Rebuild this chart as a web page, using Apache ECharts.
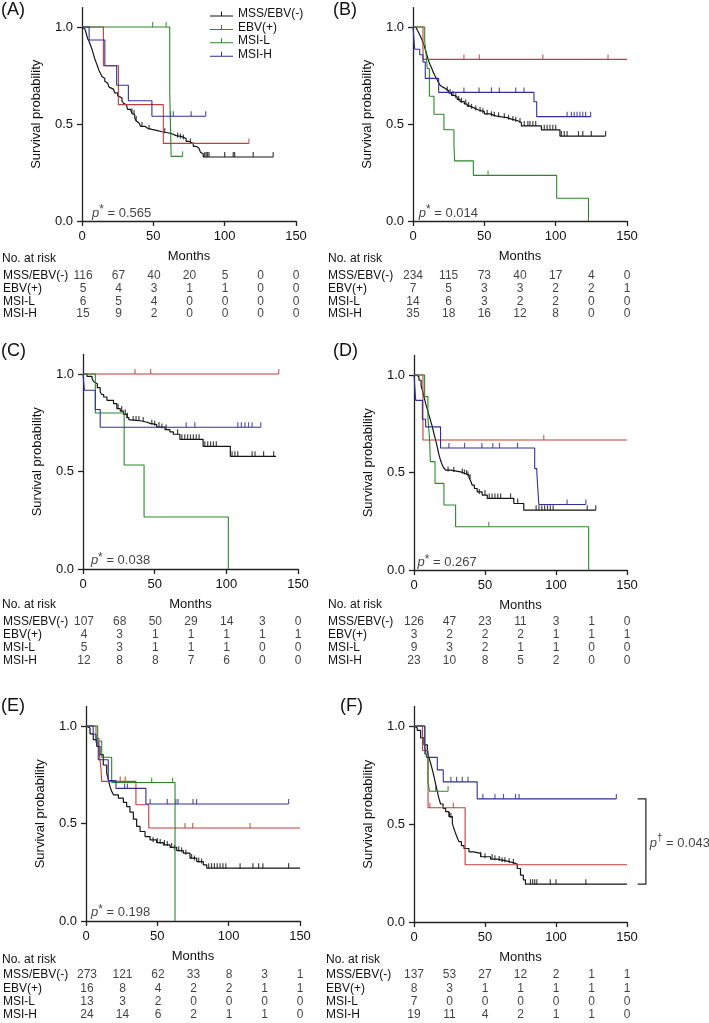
<!DOCTYPE html>
<html>
<head>
  <title>Survival by molecular subtype</title>
  <meta http-equiv="Content-Type" content="text/html; charset=utf-8">
  <script src="https://cdn.jsdelivr.net/npm/echarts@6/dist/echarts.min.js"></script>
  <style>
    html, body { margin: 0; padding: 0; background: #fff; }
    #chart { width: 709px; height: 1023px; }
  </style>
</head>
<body>
<div id="chart"></div>
<script type="application/javascript">
var groups = ['MSS/EBV(-)', 'EBV(+)', 'MSI-L', 'MSI-H'];
var riskMonths = [0, 25, 50, 75, 100, 125, 150];
var yTicks = [0, 0.5, 1];

// survival steps [month, survival] per group: MSS/EBV(-), EBV(+), MSI-L, MSI-H
var kmA = [
  [[0,1],[1,0.99],[2,0.98],[3,0.965],[4,0.94],[5,0.925],[6,0.905],[7,0.885],[8,0.86],[9,0.835],[10,0.815],[11,0.795],[12,0.775],[13,0.76],[14,0.745],[15,0.735],[16,0.72],[17,0.71],[18,0.7],[19,0.69],[20,0.68],[22,0.67],[23,0.66],[25,0.645],[26,0.635],[28,0.62],[29,0.607],[30,0.6],[31,0.59],[32,0.575],[34,0.565],[35,0.555],[36,0.546],[37,0.53],[38,0.515],[39,0.505],[40,0.495],[41,0.488],[44,0.478],[46,0.472],[49,0.466],[53,0.46],[56,0.455],[60,0.45],[63,0.44],[66,0.435],[70,0.425],[73,0.41],[75,0.4],[78,0.385],[80,0.375],[82,0.366],[83,0.355],[84,0.345],[85,0.33],[134,0.33]],
  [[0,1],[15,0.8],[25.5,0.6],[57,0.4],[117,0.4]],
  [[0,1],[61.5,0.667],[62.5,0.333],[70.5,0.333]],
  [[0,1],[5,0.933],[16,0.8],[24.3,0.7],[32.5,0.62],[49,0.54],[86.7,0.54]]
];
var censA = [
  [[35,0.555],[36.5,0.546],[38,0.515],[42,0.485],[47,0.47],[58,0.452],[67,0.43],[69,0.425],[71,0.42],[76,0.4],[86,0.33],[87,0.33],[88,0.33],[89,0.33],[100,0.33],[106,0.33],[107,0.33],[120,0.33],[134,0.33]],
  [[117,0.4]],
  [[49.5,1],[59,1],[70.5,0.333]],
  [[62,0.54],[64,0.54],[76.5,0.54],[86.7,0.54]]
];
var kmB = [
  [[0,1],[2,0.99],[3,0.985],[4,0.97],[5,0.955],[6,0.94],[7,0.92],[8,0.9],[9,0.875],[10,0.85],[11,0.825],[12,0.805],[13,0.79],[14,0.77],[15,0.755],[16,0.74],[17,0.727],[18,0.712],[19,0.7],[20,0.69],[21,0.682],[23,0.672],[25,0.66],[27,0.648],[29,0.638],[31,0.627],[33,0.615],[36,0.603],[38,0.592],[40,0.582],[43,0.572],[46,0.564],[50,0.552],[54,0.542],[58,0.537],[62,0.533],[66,0.525],[69,0.518],[73,0.508],[76,0.49],[90,0.47],[103,0.438],[135,0.438]],
  [[0,1],[7,0.833],[150,0.833]],
  [[0,1],[8.2,0.929],[9.2,0.857],[10,0.786],[11.5,0.643],[14.7,0.55],[21.7,0.47],[28.7,0.39],[29.2,0.31],[42.3,0.235],[100.7,0.117],[123,0]],
  [[0,1],[1.2,0.885],[4.7,0.857],[7,0.82],[8.6,0.735],[18,0.663],[84.8,0.615],[86.7,0.538],[124.5,0.538]]
];
var censB = [
  [[24,0.668],[26,0.655],[28,0.645],[30,0.633],[32,0.62],[34,0.61],[37,0.6],[39,0.588],[41,0.578],[44,0.57],[47,0.562],[49,0.556],[52,0.548],[55,0.54],[57,0.538],[60,0.535],[64,0.53],[67,0.522],[70,0.515],[72,0.51],[75,0.505],[78,0.49],[80.5,0.49],[82,0.49],[84,0.49],[86,0.49],[92,0.47],[94,0.47],[96,0.47],[98,0.47],[100,0.47],[104,0.438],[106,0.438],[108,0.438],[116,0.438],[119,0.438],[125,0.438],[135,0.438]],
  [[35.7,0.833],[46.5,0.833],[91,0.833],[136.7,0.833]],
  [[52.6,0.235]],
  [[35.7,0.663],[46.3,0.663],[55,0.663],[60.5,0.663],[72,0.663],[77.8,0.663],[108,0.538],[111,0.538],[113,0.538],[115,0.538],[117,0.538],[119,0.538],[121,0.538],[124.5,0.538]]
];
var kmC = [
  [[0,1],[2.8,0.988],[6.3,0.976],[7.5,0.96],[8.6,0.95],[10,0.93],[12,0.908],[13,0.895],[14.4,0.882],[16.7,0.865],[21.3,0.848],[23.6,0.822],[26,0.81],[28.2,0.793],[30.6,0.776],[32,0.765],[34,0.759],[41,0.754],[44,0.747],[47,0.74],[51.4,0.728],[57.2,0.715],[60.6,0.703],[63,0.691],[67.6,0.665],[83.8,0.629],[102.8,0.578],[134.7,0.578]],
  [[0,1],[136.6,1]],
  [[0,1],[8.6,0.8],[28.7,0.533],[42.6,0.267],[101.4,0]],
  [[0,1],[1,0.917],[8.6,0.818],[12,0.727],[124,0.727]]
];
var censC = [
  [[24.5,0.822],[27,0.81],[29.5,0.793],[31,0.776],[35,0.759],[37,0.759],[39,0.759],[42,0.754],[48,0.74],[50,0.735],[53,0.728],[55,0.72],[58,0.715],[66,0.691],[69,0.665],[71,0.665],[73,0.665],[75,0.665],[77,0.665],[79,0.665],[81,0.665],[85,0.629],[87,0.629],[89,0.629],[91,0.629],[93,0.629],[104,0.578],[106,0.578],[108,0.578],[118,0.578],[120,0.578],[126,0.578],[133,0.578]],
  [[36.3,1],[47.2,1],[136.6,1]],
  [],
  [[72,0.727],[78,0.727],[108,0.727],[110.5,0.727],[113,0.727],[115.5,0.727],[118,0.727],[124,0.727]]
];
var kmD = [
  [[0,1],[2,0.99],[3.5,0.973],[5,0.945],[5.9,0.922],[7,0.89],[8.2,0.853],[9.4,0.825],[10.5,0.795],[11.7,0.765],[12.9,0.735],[14,0.7],[15.2,0.667],[16.4,0.63],[17.6,0.59],[18.8,0.56],[19.9,0.538],[21,0.523],[22.3,0.512],[25.8,0.503],[32.8,0.495],[36,0.487],[38.7,0.474],[40,0.455],[41,0.435],[42.5,0.418],[44.5,0.401],[48,0.384],[51.6,0.367],[70.3,0.341],[77.3,0.307],[128,0.307]],
  [[0,1],[6.3,0.667],[150,0.667]],
  [[0,1],[7.5,0.889],[9.8,0.778],[11,0.667],[11.5,0.556],[14.8,0.444],[21.1,0.333],[29.3,0.222],[123,0]],
  [[0,1],[1.2,0.87],[5.9,0.773],[8.2,0.734],[18.7,0.626],[85,0.52],[86.5,0.5],[87.9,0.336],[121,0.336]]
];
var censD = [
  [[24,0.505],[28,0.503],[34,0.495],[35.5,0.49],[37,0.487],[38,0.48],[39.5,0.465],[46,0.39],[50,0.384],[53,0.367],[55,0.367],[57,0.367],[59,0.367],[61,0.367],[68,0.367],[73,0.341],[86,0.307],[88,0.307],[90,0.307],[92,0.307],[94,0.307],[96,0.307],[98,0.307],[122,0.307],[128,0.307]],
  [[91.4,0.667]],
  [[52.7,0.222]],
  [[24.6,0.626],[35.6,0.626],[47.8,0.626],[55.5,0.626],[60.2,0.626],[72.9,0.626],[107.8,0.336],[121,0.336]]
];
var kmE = [
  [[0,1],[1,0.99],[2.8,0.96],[5.1,0.93],[7.5,0.896],[9.8,0.853],[12.1,0.8],[14.5,0.759],[15.5,0.73],[16.8,0.69],[18,0.665],[19.2,0.647],[22.7,0.63],[26.2,0.608],[28.5,0.587],[30.8,0.558],[33.2,0.522],[35.5,0.485],[37.9,0.459],[41.4,0.433],[44.9,0.416],[49.5,0.402],[54.2,0.39],[58.9,0.378],[63.6,0.361],[68.2,0.348],[72.9,0.322],[77.6,0.305],[82.2,0.288],[84.6,0.271],[150,0.271]],
  [[0,1],[7,0.9375],[9.1,0.875],[10.5,0.78],[11,0.716],[35,0.596],[44,0.477],[150,0.477]],
  [[0,1],[8.2,0.923],[11,0.84],[18,0.71],[62.4,0]],
  [[0,1],[5,0.958],[7,0.917],[8.6,0.827],[15.6,0.72],[21,0.68],[42,0.6],[142,0.6]]
];
var censE = [
  [[47,0.405],[50,0.4],[52,0.395],[55,0.39],[57,0.385],[60,0.375],[62,0.365],[65,0.358],[67,0.352],[70,0.34],[74,0.318],[76,0.31],[79,0.3],[81,0.295],[86,0.271],[88,0.271],[90,0.271],[92,0.271],[94,0.271],[96,0.271],[98,0.271],[108,0.271],[117,0.271],[121,0.271],[124,0.271],[142,0.271]],
  [[24,0.716],[27.5,0.716],[69.4,0.477],[74.8,0.477],[115,0.477]],
  [[46,0.71],[60.7,0.71]],
  [[27,0.68],[29,0.68],[45,0.6],[57,0.6],[63,0.6],[64.5,0.6],[75,0.6],[77.5,0.6],[142,0.6]]
];
var kmF = [
  [[0,1],[1,0.99],[2.3,0.978],[4.7,0.939],[7,0.904],[9.4,0.87],[10.5,0.84],[11.7,0.81],[13,0.775],[14.1,0.742],[15.2,0.705],[16.4,0.666],[17.5,0.632],[18.7,0.602],[20.5,0.58],[22.3,0.563],[24.6,0.538],[27,0.503],[28,0.478],[29.3,0.452],[30.5,0.43],[31.6,0.41],[33.4,0.39],[35.2,0.375],[38.7,0.358],[42.2,0.35],[46.9,0.333],[53.9,0.321],[58.6,0.311],[65.6,0.302],[70.3,0.296],[72.7,0.273],[75,0.239],[77,0.215],[78.5,0.193],[150,0.193]],
  [[0,1],[6,0.875],[9.9,0.583],[36,0.292],[150,0.292]],
  [[0,1],[7.5,0.857],[9.8,0.714],[11,0.667],[24,0.667]],
  [[0,1],[7.7,0.895],[8.8,0.84],[16.4,0.776],[20.6,0.715],[44.5,0.628],[142.5,0.628]]
];
var censF = [
  [[25,0.535],[26,0.53],[47,0.333],[50,0.325],[55,0.321],[57,0.315],[60,0.311],[62,0.305],[64,0.305],[67,0.3],[70,0.296],[82,0.193],[83.5,0.193],[85,0.193],[86.5,0.193],[96,0.193],[100,0.193],[121,0.193]],
  [[11.2,0.583],[27.7,0.583]],
  [[15.2,0.667],[24,0.667]],
  [[26,0.715],[30,0.715],[34,0.715],[38,0.715],[48.5,0.628],[57,0.628],[63,0.628],[71.5,0.628],[74,0.628],[142.5,0.628]]
];

// numbers at risk, rows follow groups, columns follow riskMonths
var riskA = [[116,67,40,20,5,0,0],[5,4,3,1,1,0,0],[6,5,4,0,0,0,0],[15,9,2,0,0,0,0]];
var riskB = [[234,115,73,40,17,4,0],[7,5,3,3,2,2,1],[14,6,3,2,2,0,0],[35,18,16,12,8,0,0]];
var riskC = [[107,68,50,29,14,3,0],[4,3,1,1,1,1,1],[5,3,1,1,1,0,0],[12,8,8,7,6,0,0]];
var riskD = [[126,47,23,11,3,1,0],[3,2,2,2,1,1,1],[9,3,2,1,1,0,0],[23,10,8,5,2,0,0]];
var riskE = [[273,121,62,33,8,3,1],[16,8,4,2,2,1,1],[13,3,2,0,0,0,0],[24,14,6,2,1,1,0]];
var riskF = [[137,53,27,12,2,1,1],[8,3,1,1,1,1,1],[7,0,0,0,0,0,0],[19,11,4,2,1,1,0]];

var pValues = ['0.565', '0.014', '0.038', '0.267', '0.198'];
var pairP = '0.043';
// bracket in panel F joins the MSI-H and MSS/EBV(-) plateaus
var bracketF = [[157.5,0.628],[163.3,0.628],[163.3,0.193],[157.5,0.193]];

var colors = ['#151515', '#c23d3d', '#2b872b', '#30309c'];
var font = "'Liberation Sans', Arial, sans-serif";
var ink = '#111';

var panels = [
  {tag:'(A)', km:kmA, cens:censA, risk:riskA, left:82, width:214, top:7.6, height:213.4, tabTop:269.7, rowH:12.67, riskX:2, riskY:259, tagX:1, tagY:1, pAt:[7,0.046]},
  {tag:'(B)', km:kmB, cens:censB, risk:riskB, left:413, width:214, top:7.6, height:213.4, tabTop:269.7, rowH:12.67, riskX:328, riskY:259, tagX:333, tagY:1, pAt:[4,0.046]},
  {tag:'(C)', km:kmC, cens:censC, risk:riskC, left:83, width:215, top:354.5, height:214.5, tabTop:615.5, rowH:13, riskX:2, riskY:605, tagX:1, tagY:342, pAt:[5.5,0.05]},
  {tag:'(D)', km:kmD, cens:censD, risk:riskD, left:414, width:213, top:355.5, height:214.5, tabTop:615.5, rowH:13, riskX:328, riskY:605, tagX:333, tagY:342, pAt:[2.5,0.045]},
  {tag:'(E)', km:kmE, cens:censE, risk:riskE, left:86, width:214, top:706.5, height:214.5, tabTop:968.3, rowH:13.3, riskX:2, riskY:960, tagX:1, tagY:697, pAt:[3.5,0.05]},
  {tag:'(F)', km:kmF, cens:censF, risk:riskF, left:414, width:213, top:706.4, height:215.6, tabTop:968.3, rowH:13.3, riskX:326, riskY:960, tagX:340, tagY:697, pAt:null}
];

var grids = [], xAxes = [], yAxes = [], series = [], graphics = [];

panels.forEach(function (P, i) {
  var g = 2 * i, t = 2 * i + 1;
  grids.push({left: P.left, top: P.top, width: P.width, height: P.height});
  grids.push({left: P.left, top: P.tabTop, width: P.width, height: 4 * P.rowH});

  xAxes.push({
    gridIndex: g, type: 'value', min: 0, max: 150, interval: 50,
    name: 'Months', nameLocation: 'middle', nameGap: 29,
    nameTextStyle: {fontSize: 13, color: ink, fontFamily: font},
    axisLine: {lineStyle: {color: '#222', width: 1.3}},
    axisTick: {length: 5, lineStyle: {color: '#222', width: 1.3}},
    axisLabel: {margin: 9, fontSize: 13, color: ink, fontFamily: font},
    splitLine: {show: false}
  });
  xAxes.push({gridIndex: t, type: 'value', min: 0, max: 150, show: false});

  yAxes.push({
    gridIndex: g, type: 'value', min: 0, max: 1.1,
    name: 'Survival probability', nameLocation: 'middle', nameGap: 39,
    nameTextStyle: {fontSize: 13, color: ink, fontFamily: font},
    axisLine: {show: true, lineStyle: {color: '#222', width: 1.3}},
    axisTick: {show: true, length: 5, customValues: yTicks, lineStyle: {color: '#222', width: 1.3}},
    axisLabel: {margin: 9, fontSize: 13, color: ink, fontFamily: font, customValues: yTicks,
      formatter: function (v) { return v.toFixed(1); }},
    splitLine: {show: false}
  });
  yAxes.push({
    gridIndex: t, type: 'category', data: groups, inverse: true,
    axisLine: {show: false}, axisTick: {show: false},
    axisLabel: {interval: 0, align: 'left', margin: P.left - P.riskX, fontSize: 12, color: ink, fontFamily: font}
  });

  groups.forEach(function (name, k) {
    series.push({
      name: name, type: 'line', step: 'end', xAxisIndex: g, yAxisIndex: g,
      data: P.km[k], symbol: 'none', silent: true,
      lineStyle: {color: colors[k], width: k === 0 ? 1.2 : 1.1},
      itemStyle: {color: colors[k]}
    });
    series.push({
      name: name + ' censored', type: 'scatter', xAxisIndex: g, yAxisIndex: g,
      data: P.cens[k], symbol: 'rect', symbolSize: [1.2, 5], symbolOffset: [0, -2.5],
      itemStyle: {color: colors[k]}, silent: true
    });
  });

  var cells = [];
  P.risk.forEach(function (row, k) {
    row.forEach(function (n, j) { cells.push([riskMonths[j], groups[k], n]); });
  });
  series.push({
    type: 'scatter', xAxisIndex: t, yAxisIndex: t, data: cells,
    symbolSize: 1, itemStyle: {color: 'rgba(0,0,0,0)'}, silent: true,
    label: {show: true, position: 'inside', fontSize: 12, color: ink, fontFamily: font,
      formatter: function (p) { return String(p.value[2]); }}
  });

  if (P.pAt) {
    series.push({
      type: 'scatter', xAxisIndex: g, yAxisIndex: g, data: [P.pAt], symbolSize: 0, silent: true,
      label: {show: true, position: 'right', distance: 0, formatter: '{i|p}{s|*}{n| = ' + pValues[i] + '}',
        rich: {
          i: {fontStyle: 'italic', fontSize: 13, color: ink, fontFamily: font, lineHeight: 16, verticalAlign: 'bottom'},
          s: {fontSize: 12, color: ink, fontFamily: font, lineHeight: 11, verticalAlign: 'top'},
          n: {fontSize: 13, color: ink, fontFamily: font, lineHeight: 16, verticalAlign: 'bottom'}
        }}
    });
  }

  graphics.push({type: 'text', left: P.tagX, top: P.tagY,
    style: {text: P.tag, fontSize: 18, fill: ink, fontFamily: font}});
  graphics.push({type: 'text', x: P.riskX, y: P.riskY,
    style: {text: 'No. at risk', fontSize: 12, fill: ink, fontFamily: font, verticalAlign: 'middle'}});
});

// pairwise p-value for panel F, beside the bracket
series.push({
  type: 'scatter', xAxisIndex: 10, yAxisIndex: 10, data: [[166, 0.41]], clip: false,
  symbolSize: 0, silent: true,
  label: {show: true, position: 'right', distance: 0, formatter: '{i|p}{s|\u2020}{n| = ' + pairP + '}',
    rich: {
      i: {fontStyle: 'italic', fontSize: 13, color: ink, fontFamily: font, lineHeight: 16, verticalAlign: 'bottom'},
      s: {fontSize: 10, color: ink, fontFamily: font, lineHeight: 10, verticalAlign: 'top'},
      n: {fontSize: 13, color: ink, fontFamily: font, lineHeight: 16, verticalAlign: 'bottom'}
    }}
});

var chart = echarts.init(document.getElementById('chart'));
chart.setOption({
  animation: false,
  backgroundColor: '#fff',
  grid: grids,
  xAxis: xAxes,
  yAxis: yAxes,
  legend: {
    data: groups, orient: 'vertical', left: 210, top: 7.5, padding: 0,
    itemWidth: 23, itemHeight: 5, itemGap: 0.4, selectedMode: false,
    icon: 'path://M0,4H23V5H0Z M11,0H12V4H11Z',
    textStyle: {fontSize: 12, color: ink, fontFamily: font, lineHeight: 13}
  },
  graphic: graphics,
  series: series
});

// the bracket sits outside the plot area, so place it through panel F's scales
var bracketPts = bracketF.map(function (d) {
  return chart.convertToPixel({xAxisIndex: 10, yAxisIndex: 10}, d);
});
graphics.push({
  type: 'polyline', shape: {points: bracketPts}, silent: true,
  style: {stroke: '#222', lineWidth: 1.2, fill: null}
});
chart.setOption({graphic: graphics});
</script>
</body>
</html>
